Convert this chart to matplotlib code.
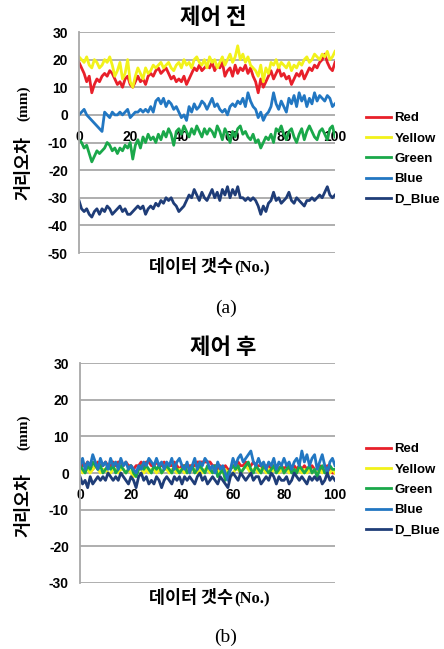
import numpy as np
import matplotlib
matplotlib.use("Agg")
import matplotlib.pyplot as plt

plt.rcParams['axes.unicode_minus'] = False

series_names = ["Red", "Yellow", "Green", "Blue", "D_Blue"]
series_colors = ["#e8202a", "#f2f21a", "#1aa84a", "#2277c2", "#1f3d78"]

# ---- (a) 제어 전 ----
red_a = [19, 17, 15, 12, 14, 8, 11, 13, 12, 14,
         15, 14, 16, 15, 13, 11, 12, 10, 13, 14,
         11, 10, 12, 14, 12, 13, 11, 14, 15, 14,
         16, 17, 15, 16, 17, 15, 13, 14, 12, 13,
         12, 14, 11, 13, 15, 17, 16, 18, 16, 17,
         18, 17, 19, 16, 18, 17, 19, 14, 16, 17,
         14, 18, 15, 17, 16, 18, 15, 17, 14, 12,
         8, 13, 10, 12, 14, 16, 13, 15, 17, 14,
         15, 13, 14, 11, 13, 15, 14, 16, 13, 15,
         17, 16, 18, 17, 19, 20, 22, 19, 17, 16,
         19]
yellow_a = [21, 20, 19, 21, 18, 17, 20, 19, 17, 18,
            20, 19, 21, 18, 14, 16, 19, 13, 15, 20,
            12, 10, 14, 17, 15, 13, 17, 15, 16, 18,
            17, 18, 19, 17, 18, 19, 17, 16, 18, 19,
            17, 20, 18, 19, 17, 20, 21, 19, 18, 20,
            17, 21, 19, 20, 17, 19, 21, 18, 20, 22,
            19, 21, 25, 20, 22, 19, 21, 18, 17, 16,
            14, 18, 12, 17, 15, 19, 18, 20, 17, 19,
            18, 17, 19, 16, 18, 17, 19, 18, 20, 21,
            19, 20, 22, 21, 20, 22, 21, 23, 20, 21,
            23]
green_a = [-9, -10, -12, -11, -14, -17, -15, -13, -14, -13,
           -12, -10, -11, -13, -12, -14, -12, -13, -11, -12,
           -10, -16, -11, -9, -12, -8, -10, -7, -9, -8,
           -10, -7, -9, -6, -8, -5, -7, -11, -6, -5,
           -7, -4, -6, -8, -5, -7, -4, -6, -8, -5,
           -7, -5, -6, -8, -4, -6, -9, -5, -7, -10,
           -6, -8, -5, -4, -7, -6, -8, -9, -7, -10,
           -9, -12, -10, -8, -9, -7, -10, -5, -6, -4,
           -7, -9, -6, -5, -8, -10, -7, -5, -9, -6,
           -4, -6, -8, -9, -6, -5, -7, -9, -5, -4,
           -8]
blue_a = [0, 1, 2, 0, -1, -2, -3, -4, -5, -6,
          1, 0, -1, 1, 0, 0, 1, 0, 1, 2,
          -1, 0, 1, 1, 2, 1, 2, 1, 3, 1,
          5, 6, 4, 6, 3, 5, 4, 2, 3, 1,
          -1, 0, -2, 3, 1, 4, 2, 3, 5, 4,
          2, 4, 6, 3, 4, 2, 1, 2, 0, 3,
          4, 3, 5, 4, 6, 3, 8, 5, 3, 2,
          -1, 1, -2, 0, 1, 3, 8, 4, 2, 5,
          3, 1, 6, 4, 7, 3, 8, 5, 7, 3,
          6, 4, 8, 5, 7, 6, 5, 7, 6, 3,
          4]
dblue_a = [-31, -34, -35, -34, -36, -37, -35, -34, -36, -34,
           -35, -33, -34, -36, -35, -34, -33, -35, -34, -36,
           -36, -35, -34, -33, -34, -33, -36, -34, -33, -34,
           -32, -33, -31, -32, -30, -31, -30, -32, -33, -35,
           -34, -33, -31, -29, -30, -27, -29, -31, -28, -30,
           -31, -29, -27, -30, -28, -31, -27, -29, -26, -30,
           -27, -29, -26, -30, -30, -31, -30, -31, -30, -31,
           -33, -36, -33, -35, -32, -31, -28, -31, -30, -32,
           -31, -30, -28, -31, -32, -30, -31, -32, -33, -31,
           -31, -30, -31, -30, -29, -30, -28, -26, -29, -30,
           -29]

# ---- (b) 제어 후 ----
red_b = [3, 2, 2, 3, 2, 1, 2, 3, 2, 2,
         3, 2, 2, 3, 2, 3, 3, 2, 3, 2,
         2, 1, 2, 2, 3, 2, 3, 3, 2, 2,
         3, 2, 2, 3, 2, 2, 2, 3, 2, 1,
         2, 2, 1, 2, 2, 2, 3, 3, 3, 3,
         3, 3, 2, 2, 1, 2, 1, 2, 1, 1,
         2, 2, 3, 2, 2, 3, 2, 2, 3, 2,
         2, 2, 1, 2, 2, 1, 2, 2, 1, 2,
         1, 2, 1, 1, 2, 1, 2, 1, 2, 1,
         1, 2, 1, 1, 2, 1, 1, 2, 1, 0,
         0]
yellow_b = [1, 0, 1, 1, 0, 1, 2, 1, 0, 1,
            1, 0, 0, 1, 1, 0, 1, 1, 0, 1,
            0, -1, 0, 1, 1, 0, 1, 0, 1, 1,
            0, 1, 0, 1, 1, 0, 1, 1, 0, 1,
            1, 0, 1, 0, 1, 1, 0, 1, 0, 1,
            1, 0, 1, 1, 0, 1, 0, 1, 0, -1,
            0, 1, 1, 0, 1, 2, 1, 0, 1, 1,
            0, 1, 1, 0, 1, 0, 1, 1, 0, 1,
            0, 1, 0, 1, 1, 0, 1, 0, 1, 0,
            1, 0, 1, 0, 1, 0, 1, 0, 0, 1,
            0]
green_b = [2, 1, 0, 2, 1, 3, 2, 1, 2, 0,
           1, 2, 1, 2, 0, 1, 2, 1, 0, 1,
           2, 0, -1, 1, 2, 1, 2, 1, 0, 2,
           1, 2, 0, 1, 2, 1, 0, 2, 1, 0,
           1, 2, 0, 1, 2, 0, 1, 2, 1, 0,
           2, 1, 0, 2, -1, 0, 1, -2, 0, 1,
           2, 1, 2, 0, 1, 2, 3, 1, 0, 2,
           1, 0, 2, 1, 0, 1, 2, 0, 1, 2,
           0, 1, 2, 0, 1, 0, 2, 1, 0, 1,
           2, 0, 1, -1, 1, 2, 0, 1, 2, 1,
           1]
blue_b = [2, 4, 1, 3, 2, 5, 3, 1, 4, 2,
          3, 1, 4, 2, 3, 1, 4, 2, 3, 1,
          2, 1, 0, 2, 1, 3, 2, 4, 3, 2,
          4, 2, 3, 1, 3, 2, 4, 1, 3, 4,
          2, 1, 3, 0, 2, 4, 1, 3, 2, 4,
          3, 1, 2, 0, 3, 1, 2, 0, -2, 1,
          4, 2, 4, 5, 3, 4, 5, 6, 3, 2,
          4, 2, 3, 1, 3, 2, 4, 1, 3, 2,
          4, 2, 3, 1, 3, 4, 2, 6, 3, 5,
          2, 4, 5, 1, 3, 5, 2, 0, 3, 4,
          2]
dblue_b = [-1, -3, -2, -4, -1, -3, -2, -1, -2, -1,
           -2, 0, -1, -2, -1, -2, 0, -1, -2, -3,
           -1, -2, -4, -1, 0, -2, -1, -3, -2, -3,
           -1, -2, -4, -2, -1, -2, -3, -1, -2, -1,
           -3, -1, -2, -1, -2, -3, -1, 0, -2, -1,
           -3, -2, -1, -2, -3, -1, -2, -3, -4, -1,
           0, -1, -2, 0, -1, -2, -1, 0, -2, -1,
           -1, -3, -2, -1, -2, 0, -1, -3, -1, -2,
           -2, -1, -3, -2, 0, -1, -2, -1, -2, -3,
           -1, -2, -1, -2, -1, -3, -2, 0, -2, -1,
           -2]

xticks = [0, 20, 40, 60, 80, 100]
yticks_a = [30, 20, 10, 0, -10, -20, -30, -40, -50]
yticks_b = [30, 20, 10, 0, -10, -20, -30]

W, H = 444, 649
fig = plt.figure(figsize=(W / 100, H / 100), dpi=100)

def fx(px):
    return px / W

def fy(py):
    return 1 - py / H

CJK = ['Noto Sans CJK KR', 'DejaVu Sans']
TICKF = 'Liberation Sans'
SERIF = 'Liberation Serif'

def make_panel(left, right, top, bottom, data, yticks, title, title_xy,
               xlab_y, ylab_main_c, ylab_mm_c, leg_top, caption, caption_y):
    ax = fig.add_axes([fx(left), fy(bottom), fx(right - left), (bottom - top) / H])
    x = np.arange(len(data[0]))
    for vals, name, col in zip(data, series_names, series_colors):
        ax.plot(x, vals, color=col, lw=2.0, label=name, solid_joinstyle='round')
    ax.set_xlim(0, 100)
    ax.set_ylim(min(yticks), max(yticks))
    ax.set_yticks(yticks)
    ax.set_xticks(xticks)
    ax.yaxis.grid(True, color='#a8a8a8', lw=1.3)
    ax.set_axisbelow(True)
    for s in ['top', 'right']:
        ax.spines[s].set_visible(False)
    ax.spines['bottom'].set_position(('data', 0))
    ax.spines['bottom'].set_visible(False)
    ax.spines['left'].set_color('#a8a8a8')
    ax.spines['left'].set_linewidth(1.3)
    ax.tick_params(axis='both', length=0)
    ax.tick_params(axis='x', pad=11)
    ax.tick_params(axis='y', pad=8)
    for lab in ax.get_xticklabels() + ax.get_yticklabels():
        lab.set_fontfamily(TICKF)
        lab.set_fontweight('bold')
        lab.set_fontsize(10)
    fig.text(fx(title_xy[0]), fy(title_xy[1]), title, ha='center', va='center',
             family=CJK, fontsize=16, fontweight='bold')
    fig.text(fx(233), fy(xlab_y), '데이터 갯수', ha='right', va='center',
             family=CJK, fontsize=12.5, fontweight='black')
    fig.text(fx(234), fy(xlab_y + 1), '(No.)', ha='left', va='center',
             family=SERIF, fontsize=12, fontweight='bold')
    fig.text(fx(23), fy(ylab_main_c), '거리오차', ha='center', va='center',
             rotation=90, family=CJK, fontsize=12.5, fontweight='black')
    fig.text(fx(24), fy(ylab_mm_c), '(mm)', ha='center', va='center',
             rotation=90, family=SERIF, fontsize=11, fontweight='bold')
    ax.legend(loc='upper left', bbox_to_anchor=(fx(366), fy(leg_top)),
              bbox_transform=fig.transFigure, frameon=False,
              prop={'family': TICKF, 'weight': 'bold', 'size': 9.5},
              handlelength=1.9, handletextpad=0.25, labelspacing=0.62,
              borderpad=0, borderaxespad=0)
    fig.text(fx(226), fy(caption_y), caption, ha='center', va='center',
             family=SERIF, fontsize=14)
    return ax

make_panel(79, 335, 32, 253, [red_a, yellow_a, green_a, blue_a, dblue_a], yticks_a,
           '제어 전', (213, 17), 267, 168, 103.5, 112, '(a)', 308)
make_panel(80, 335, 363, 583, [red_b, yellow_b, green_b, blue_b, dblue_b], yticks_b,
           '제어 후', (223, 348), 598, 505, 432, 443, '(b)', 637)

fig.savefig('out.png', dpi=100)
